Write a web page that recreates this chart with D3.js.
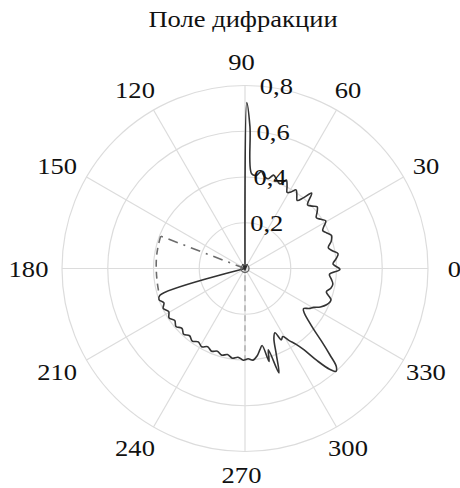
<!DOCTYPE html>
<html>
<head>
<meta charset="utf-8">
<script src="https://cdn.jsdelivr.net/npm/d3@7"></script>
<style>
  html, body { margin: 0; padding: 0; background: #fff; }
  svg { display: block; }
</style>
</head>
<body>
<svg id="chart" width="460" height="488"></svg>
<script>
// Polar diffraction pattern: [angle in degrees, field amplitude]
const title = "Поле дифракции";
const angleTicks = [0, 30, 60, 90, 120, 150, 180, 210, 240, 270, 300, 330];
const ringTicks = [0.2, 0.4, 0.6, 0.8];
const ringLabels = ["0,2", "0,4", "0,6", "0,8"];

const fieldCurve = [
  [197, 0], [197.5, 0.39], [200, 0.40], [203, 0.385], [206, 0.398], [209.5, 0.383],
  [213, 0.396], [216.5, 0.382], [220, 0.394], [223.5, 0.380], [227, 0.393],
  [230.5, 0.381], [234, 0.392], [237.5, 0.380], [241, 0.391], [244.5, 0.379],
  [248, 0.390], [251.5, 0.381], [255, 0.392], [258.5, 0.384], [262, 0.396],
  [265.5, 0.389], [269, 0.401], [272, 0.395], [275, 0.402], [278, 0.385],
  [280.5, 0.36], [282.5, 0.345], [284.5, 0.42], [286, 0.37], [288, 0.48],
  [290, 0.40], [292.5, 0.33], [295, 0.31], [297, 0.35], [299, 0.34],
  [301.5, 0.37], [304, 0.40], [306, 0.44], [308, 0.51], [310, 0.575],
  [311.5, 0.60], [313, 0.585], [314.5, 0.53], [316.5, 0.46], [318.5, 0.40],
  [320.5, 0.36], [323, 0.325], [325.5, 0.31], [328, 0.33], [330.5, 0.345],
  [333, 0.37], [336, 0.39], [340, 0.40], [344, 0.37], [347, 0.385], [350, 0.39],
  [353, 0.38], [356, 0.37], [359.5, 0.415], [363, 0.385], [366, 0.40],
  [369, 0.412], [371.5, 0.39], [374, 0.375], [377.5, 0.395], [381, 0.405],
  [383.5, 0.39], [386, 0.378], [388, 0.39], [390.5, 0.41], [393, 0.395],
  [395.5, 0.383], [398, 0.40], [400.5, 0.415], [403, 0.40], [405.5, 0.39],
  [408.5, 0.44], [410.5, 0.40], [412.5, 0.375], [415, 0.395], [417, 0.41],
  [419, 0.39], [421, 0.38], [423, 0.405], [425, 0.427], [427.5, 0.40],
  [430, 0.41], [433, 0.427], [435.5, 0.405], [438, 0.41], [440.5, 0.43],
  [443, 0.41], [446, 0.415], [448, 0.62], [449.4, 0.725], [449.8, 0]
];

// Shadow sector boundaries
const sectorEdge = [[159, 0], [159, 0.395]];
const sectorArc = [[159, 0.395], [166, 0.392], [173, 0.39], [180, 0.388], [187, 0.388], [194, 0.39], [197, 0.39]];
const axisMark = [[270, 0.03], [270, 0.40]];

const svg = d3.select("#chart");
const cx = 245, cy = 268.5;
const r = d3.scaleLinear().domain([0, 0.8]).range([0, 183]);
const rad = deg => (90 - deg) * Math.PI / 180;
const FONT = "Liberation Serif";
const FS = 23.5;
const SX = 1.13; // wide type setting

svg.append("text")
  .attr("transform", `translate(243,27) scale(${SX},1)`)
  .attr("text-anchor", "middle")
  .attr("font-family", FONT)
  .attr("font-size", FS)
  .attr("fill", "#111")
  .text(title);

const g = svg.append("g").attr("transform", `translate(${cx},${cy})`);

// grid rings and spokes
g.selectAll("circle.ring").data(ringTicks).join("circle")
  .attr("class", "ring")
  .attr("r", d => r(d))
  .attr("fill", "none")
  .attr("stroke", "#dcdcdc")
  .attr("stroke-width", 1.2);

g.selectAll("line.spoke").data(angleTicks).join("line")
  .attr("class", "spoke")
  .attr("x1", 0).attr("y1", 0)
  .attr("x2", d => r(0.8) * Math.cos(d * Math.PI / 180))
  .attr("y2", d => -r(0.8) * Math.sin(d * Math.PI / 180))
  .attr("stroke", "#dcdcdc")
  .attr("stroke-width", 1.2);

const straight = d3.lineRadial()
  .angle(d => rad(d[0]))
  .radius(d => r(d[1]));

const smooth = d3.lineRadial()
  .angle(d => rad(d[0]))
  .radius(d => r(d[1]))
  .curve(d3.curveCatmullRom.alpha(0.5));

// arrowhead marker
svg.append("defs").append("marker")
  .attr("id", "arrow")
  .attr("viewBox", "0 0 10 10")
  .attr("refX", 6).attr("refY", 5)
  .attr("markerWidth", 5).attr("markerHeight", 7)
  .attr("markerUnits", "strokeWidth")
  .attr("orient", "auto")
  .append("path")
  .attr("d", "M0,1 L10,5 L0,9 Z")
  .attr("fill", "#2a2a2a");

g.append("path")
  .datum(axisMark)
  .attr("d", straight)
  .attr("fill", "none")
  .attr("stroke", "#b0b0b0")
  .attr("stroke-width", 1.5)
  .attr("stroke-dasharray", "6,4");

g.append("path")
  .datum(sectorEdge)
  .attr("d", straight)
  .attr("fill", "none")
  .attr("stroke", "#6c6c6c")
  .attr("stroke-width", 1.6)
  .attr("stroke-dasharray", "10,6,2,6");

g.append("path")
  .datum(sectorArc)
  .attr("d", smooth)
  .attr("fill", "none")
  .attr("stroke", "#6c6c6c")
  .attr("stroke-width", 1.6)
  .attr("stroke-dasharray", "7,5");

g.append("path")
  .datum(fieldCurve)
  .attr("d", smooth)
  .attr("fill", "none")
  .attr("stroke", "#333")
  .attr("stroke-width", 1.6)
  .attr("stroke-linejoin", "round")
  .attr("marker-end", "url(#arrow)");

// small hub at the origin
g.append("circle")
  .attr("r", 4)
  .attr("fill", "none")
  .attr("stroke", "#666")
  .attr("stroke-width", 1.4);

// angle labels
g.selectAll("text.ang").data(angleTicks).join("text")
  .attr("class", "ang")
  .attr("transform", d => {
    const x = -3.5 + 213 * Math.cos(d * Math.PI / 180);
    const y = 0.5 - 206.5 * Math.sin(d * Math.PI / 180);
    return `translate(${x},${y}) scale(${SX},1)`;
  })
  .attr("text-anchor", "middle")
  .attr("dominant-baseline", "central")
  .attr("font-family", FONT)
  .attr("font-size", FS)
  .attr("fill", "#111")
  .text(d => d);

// ring labels along 86 degrees
g.selectAll("text.rlab").data(ringTicks).join("text")
  .attr("class", "rlab")
  .attr("transform", d => {
    const x = 2 + r(d) * Math.cos(86 * Math.PI / 180);
    const y = -r(d) * Math.sin(86 * Math.PI / 180);
    return `translate(${x},${y}) scale(${SX},1)`;
  })
  .attr("text-anchor", "start")
  .attr("dominant-baseline", "central")
  .attr("font-family", FONT)
  .attr("font-size", FS)
  .attr("fill", "#111")
  .text((d, i) => ringLabels[i]);
</script>
</body>
</html>
